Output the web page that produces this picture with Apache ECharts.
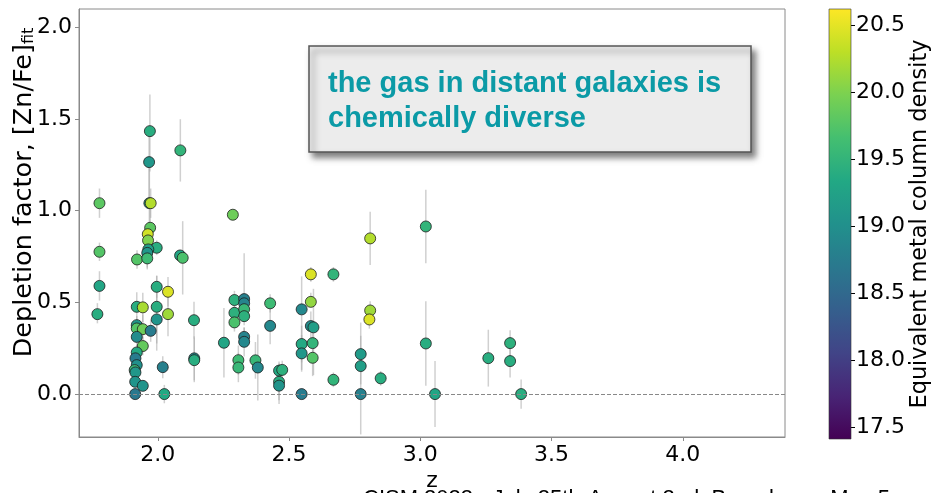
<!DOCTYPE html>
<html><head><meta charset="utf-8">
<script src="https://cdn.jsdelivr.net/npm/echarts@6/dist/echarts.min.js"></script>
<style>html,body{margin:0;padding:0;background:#fff}#c{width:932px;height:493px}</style>
</head><body><div id="c"></div>
<script>
// ---- data ----
const zVals   = [1.778,1.778,1.778,1.770,1.970,1.967,1.968,1.973,2.086,2.286,1.971,1.962,1.963,1.996,1.964,1.960,1.921,1.960,2.085,2.095,1.996,2.039,1.920,1.943,1.996,2.039,1.996,2.138,1.920,1.920,1.943,1.973,1.920,1.943,1.920,1.915,1.920,1.912,1.915,2.019,2.139,2.139,1.914,1.943,1.914,2.025,2.252,2.292,2.292,2.292,2.329,2.329,2.329,2.329,2.329,2.329,2.307,2.307,2.372,2.381,2.428,2.428,2.462,2.474,2.462,2.462,2.548,2.548,2.548,2.548,2.583,2.583,2.583,2.593,2.590,2.590,2.669,2.669,2.773,2.773,2.773,2.849,2.809,2.809,2.806,3.021,3.021,3.056,3.259,3.342,3.342,3.384];
const depVals = [1.041,0.776,0.590,0.436,1.434,1.265,1.041,1.041,1.329,0.978,0.907,0.872,0.838,0.798,0.789,0.770,0.734,0.740,0.756,0.743,0.585,0.558,0.476,0.473,0.476,0.436,0.407,0.403,0.376,0.358,0.354,0.345,0.312,0.262,0.227,0.195,0.158,0.131,0.118,0.147,0.195,0.185,0.067,0.045,0.000,0.000,0.280,0.513,0.443,0.391,0.518,0.495,0.463,0.425,0.312,0.285,0.185,0.145,0.184,0.145,0.495,0.372,0.128,0.132,0.067,0.046,0.462,0.273,0.222,0.000,0.653,0.503,0.371,0.364,0.278,0.198,0.653,0.078,0.218,0.153,0.000,0.086,0.849,0.456,0.407,0.914,0.276,0.000,0.196,0.278,0.180,0.000];
const densVals= [19.8,19.75,19.3,19.4,19.4,19.1,19.15,20.25,19.5,19.9,19.8,20.4,20.0,19.4,19.2,19.1,19.75,19.6,19.3,19.7,19.4,20.45,19.4,20.2,19.4,20.15,19.05,19.4,19.1,19.75,19.9,18.75,18.95,19.85,19.35,18.75,19.0,19.55,19.1,18.8,18.95,19.4,19.05,19.05,18.7,19.35,19.3,19.45,19.45,19.7,18.8,18.85,19.55,19.45,18.85,18.9,19.6,19.55,19.55,18.9,19.6,18.9,19.35,19.45,19.4,19.05,18.9,19.35,19.1,18.75,20.45,20.1,18.95,19.2,19.5,19.75,19.5,19.5,19.15,19.2,18.8,19.4,20.25,20.15,20.45,19.5,19.4,19.3,19.4,19.45,19.4,19.4];
const errLo   = [0.08,0.05,0.08,0.05,0.22,0.2,0.2,0.08,0.17,0.02,0.1,0.05,0.05,0.04,0.08,0.08,0.05,0.06,0.03,0.2,0.06,0.08,0.08,0.08,0.2,0.12,0.17,0.1,0.05,0.05,0.08,0.06,0.05,0.05,0.04,0.04,0.04,0.04,0.04,0.06,0.12,0.12,0.03,0.03,0.03,0.05,0.19,0.05,0.05,0.05,0.1,0.05,0.05,0.05,0.05,0.08,0.08,0.08,0.1,0.18,0.05,0.1,0.05,0.05,0.1,0.1,0.33,0.1,0.1,0.03,0.04,0.02,0.08,0.26,0.1,0.1,0.04,0.04,0.1,0.1,0.22,0.04,0.145,0.05,0.05,0.2,0.23,0.18,0.155,0.07,0.09,0.08];
const errHi   = [0.08,0.05,0.08,0.06,0.2,0.2,0.2,0.08,0.17,0.02,0.1,0.05,0.05,0.04,0.08,0.08,0.05,0.06,0.03,0.2,0.06,0.08,0.08,0.08,0.17,0.12,0.17,0.1,0.05,0.05,0.08,0.06,0.05,0.05,0.04,0.04,0.04,0.04,0.04,0.06,0.12,0.12,0.03,0.03,0.03,0.05,0.19,0.05,0.05,0.05,0.25,0.05,0.05,0.05,0.05,0.08,0.08,0.08,0.1,0.18,0.05,0.1,0.05,0.05,0.1,0.1,0.18,0.1,0.1,0.03,0.04,0.05,0.08,0.21,0.1,0.1,0.04,0.04,0.1,0.1,0.39,0.04,0.145,0.05,0.05,0.2,0.23,0.18,0.155,0.07,0.09,0.08];
const xTicks  = [2.0,2.5,3.0,3.5,4.0];
const yTicks  = [0.0,0.5,1.0,1.5,2.0];
const cbTicks = [17.5,18.0,18.5,19.0,19.5,20.0,20.5];
const xRange  = [1.70,4.389];
const yRange  = [-0.234,2.10];
const cbRange = [17.41,20.62];
const viridis = ['#440154','#482475','#414487','#355f8d','#2a788e','#21918c','#22a884','#44bf70','#7ad151','#bddf26','#fde725'];
const annotation = 'the gas in distant galaxies is\nchemically diverse';
const footer = 'CISM 2023 - July 25th-August 2nd, Barcelona - Max 5';

// ---- build ----
const FONT = 'DejaVu Sans';
const pts = zVals.map((z,i)=>[z, depVals[i], densVals[i]]);
const errs = zVals.map((z,i)=>[z, depVals[i], errLo[i], errHi[i]]);
const chart = echarts.init(document.getElementById('c'));
const frame = '#8a8a8a';
const stops = viridis.map((c,i)=>({offset:i/(viridis.length-1), color:c}));
chart.setOption({
  backgroundColor:'#fff',
  animation:false,
  grid:[
    {left:79, top:9, width:706, height:428, show:true, borderColor:frame, borderWidth:1, backgroundColor:'transparent', outerBoundsMode:'none', containLabel:false},
    {left:829, top:9, width:22, height:430, show:false, outerBoundsMode:'none', containLabel:false}
  ],
  xAxis:[
    {type:'value', gridIndex:0, min:xRange[0], max:xRange[1],
     axisLine:{show:true, onZero:false, lineStyle:{color:frame}},
     axisTick:{show:true, customValues:xTicks, length:4, lineStyle:{color:frame}},
     axisLabel:{customValues:xTicks, formatter:v=>v.toFixed(1), fontSize:22, fontFamily:FONT, color:'#000', margin:7},
     splitLine:{show:false},
     name:'z', nameLocation:'middle', nameGap:33, nameMoveOverlap:false, nameTextStyle:{fontSize:22, fontFamily:FONT, color:'#000'}},
    {type:'value', gridIndex:1, min:0, max:1, show:false}
  ],
  yAxis:[
    {type:'value', gridIndex:0, min:yRange[0], max:yRange[1],
     axisLine:{show:true, onZero:false, lineStyle:{color:frame}},
     axisTick:{show:true, customValues:yTicks, length:4, lineStyle:{color:frame}},
     axisLabel:{customValues:yTicks, formatter:v=>v.toFixed(1), fontSize:22, fontFamily:FONT, color:'#000', margin:7},
     splitLine:{show:false},
     name:'{a|Depletion factor, [Zn/Fe]}{b|fit}', nameLocation:'middle', nameGap:42, nameRotate:90, nameMoveOverlap:false,
     nameTextStyle:{padding:[0,0,0,61], rich:{a:{fontSize:25.5, fontFamily:FONT, color:'#000'}, b:{fontSize:16, fontFamily:FONT, color:'#000', verticalAlign:'bottom', padding:[8,0,0,0]}}}},
    {type:'value', gridIndex:1, min:cbRange[0], max:cbRange[1], position:'right',
     axisLine:{show:false, onZero:false},
     axisTick:{show:true, customValues:cbTicks, length:4, lineStyle:{color:'#000'}},
     axisLabel:{customValues:cbTicks, formatter:v=>v.toFixed(1), fontSize:22, fontFamily:FONT, color:'#000', margin:5},
     splitLine:{show:false},
     name:'Equivalent metal column density', nameLocation:'middle', nameRotate:90, nameGap:58, nameMoveOverlap:false,
     nameTextStyle:{fontSize:22.4, fontFamily:FONT, color:'#000'}}
  ],
  visualMap:{show:false, type:'continuous', seriesIndex:1, dimension:2, min:cbRange[0], max:cbRange[1], inRange:{color:viridis}},
  series:[
    {type:'custom', xAxisIndex:0, yAxisIndex:0, data:errs, clip:true, z:1, silent:true,
     encode:{x:0, y:1},
     renderItem:(params, api)=>{
       const x=api.value(0), y=api.value(1), lo=api.value(2), hi=api.value(3);
       const p1=api.coord([x, y-lo]), p2=api.coord([x, y+hi]);
       return {type:'line', shape:{x1:p1[0], y1:p1[1], x2:p2[0], y2:p2[1]}, style:{stroke:'rgba(170,170,170,0.55)', lineWidth:1.5}};
     },
     markLine:{silent:true, symbol:'none', label:{show:false}, lineStyle:{color:'#888', type:'dashed', width:1}, data:[{yAxis:0}]}
    },
    {type:'scatter', xAxisIndex:0, yAxisIndex:0, data:pts, symbolSize:11, z:3,
     itemStyle:{borderColor:'#1e1e1e', borderWidth:0.8, opacity:1}}
  ],
  graphic:[
    {type:'rect', shape:{x:829, y:9, width:22, height:430}, style:{fill:new echarts.graphic.LinearGradient(0,1,0,0,stops), stroke:'#333', lineWidth:0.6}, z:10},
    {type:'rect', shape:{x:309, y:46, width:442, height:106}, style:{fill:'#ececec', stroke:'#555', lineWidth:1.5, shadowBlur:6, shadowOffsetX:4, shadowOffsetY:5, shadowColor:'rgba(0,0,0,0.5)'}, z:20},
    {type:'text', x:328, y:66, style:{text:annotation, fontSize:29, fontWeight:'bold', fontFamily:'Liberation Sans', fill:'#0b9aa6', lineHeight:35, verticalAlign:'top'}, z:21},
    {type:'text', x:363, y:488, style:{text:footer, fontSize:22, fontFamily:'Liberation Sans', fill:'#000', verticalAlign:'top'}, z:21}
  ]
});
</script></body></html>
